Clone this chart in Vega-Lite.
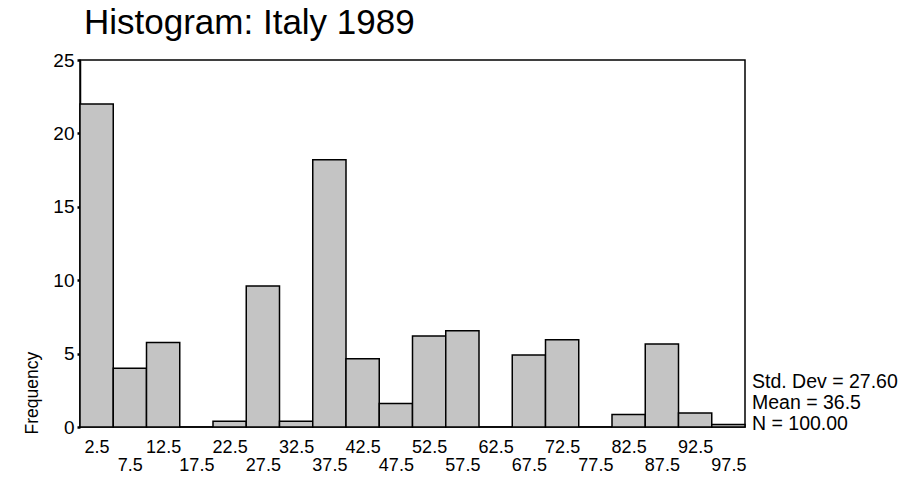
{
  "$schema": "https://vega.github.io/schema/vega-lite/v6.json",
  "width": 665,
  "height": 367,
  "autosize": {"type": "none"},
  "padding": {"left": 80, "top": 60, "right": 156, "bottom": 60},
  "background": "white",
  "title": {
    "text": "Histogram: Italy 1989",
    "anchor": "start",
    "frame": "group",
    "font": "Liberation Sans",
    "fontSize": 35,
    "fontWeight": "normal",
    "color": "black",
    "offset": 10,
    "dx": 4
  },
  "config": {
    "view": {"stroke": "black", "strokeWidth": 1.5}
  },
  "layer": [
    {
      "data": {
        "values": [
          {"lo": 0, "hi": 5, "count": 22},
          {"lo": 5, "hi": 10, "count": 4.0},
          {"lo": 10, "hi": 15, "count": 5.75},
          {"lo": 15, "hi": 20, "count": 0},
          {"lo": 20, "hi": 25, "count": 0.4},
          {"lo": 25, "hi": 30, "count": 9.6},
          {"lo": 30, "hi": 35, "count": 0.4},
          {"lo": 35, "hi": 40, "count": 18.2},
          {"lo": 40, "hi": 45, "count": 4.65},
          {"lo": 45, "hi": 50, "count": 1.6},
          {"lo": 50, "hi": 55, "count": 6.2},
          {"lo": 55, "hi": 60, "count": 6.55},
          {"lo": 60, "hi": 65, "count": 0},
          {"lo": 65, "hi": 70, "count": 4.9},
          {"lo": 70, "hi": 75, "count": 5.95},
          {"lo": 75, "hi": 80, "count": 0},
          {"lo": 80, "hi": 85, "count": 0.85},
          {"lo": 85, "hi": 90, "count": 5.65},
          {"lo": 90, "hi": 95, "count": 0.95},
          {"lo": 95, "hi": 100, "count": 0.17}
        ]
      },
      "mark": {"type": "bar", "fill": "#c4c4c4", "stroke": "black", "strokeWidth": 1.5},
      "encoding": {
        "x": {
          "field": "lo",
          "type": "quantitative",
          "scale": {"domain": [0, 100], "nice": false, "zero": false},
          "axis": {
            "values": [2.5, 7.5, 12.5, 17.5, 22.5, 27.5, 32.5, 37.5, 42.5, 47.5, 52.5, 57.5, 62.5, 67.5, 72.5, 77.5, 82.5, 87.5, 92.5, 97.5],
            "tickCount": 40,
            "format": ".1f",
            "title": null,
            "grid": false,
            "ticks": false,
            "domain": false,
            "labelFont": "Liberation Sans",
            "labelFontSize": 18,
            "labelColor": "black",
            "labelPadding": 11,
            "labelLineHeight": 18,
            "labelOverlap": false,
            "labelFlush": false,
            "labelBound": false,
            "labelExpr": "(datum.value % 10) == 7.5 ? ['', datum.label] : datum.label"
          }
        },
        "x2": {"field": "hi"},
        "y": {
          "field": "count",
          "type": "quantitative",
          "scale": {"domain": [0, 25], "nice": false},
          "axis": {
            "values": [0, 5, 10, 15, 20, 25],
            "title": "Frequency",
            "grid": false,
            "domain": true,
            "domainColor": "black",
            "domainWidth": 1.5,
            "tickColor": "black",
            "tickSize": 3,
            "tickWidth": 2.5,
            "labelFont": "Liberation Sans",
            "labelFontSize": 19,
            "labelColor": "black",
            "labelPadding": 3,
            "titleFont": "Liberation Sans",
            "titleFontSize": 17.5,
            "titleFontWeight": "normal",
            "titleColor": "black",
            "titleAngle": -90,
            "titleAlign": "left",
            "titleBaseline": "alphabetic",
            "titleX": -43,
            "titleY": 374
          }
        },
        "y2": {"datum": 0}
      }
    },
    {
      "data": {"values": [{}]},
      "mark": {
        "type": "text",
        "align": "left",
        "baseline": "bottom",
        "dx": 7,
        "dy": -35,
        "font": "Liberation Sans",
        "fontSize": 19.5,
        "lineHeight": 21,
        "color": "black",
        "text": ["Std. Dev = 27.60", "Mean = 36.5", "N = 100.00"]
      },
      "encoding": {
        "x": {"datum": 100},
        "y": {"datum": 0}
      }
    }
  ]
}
